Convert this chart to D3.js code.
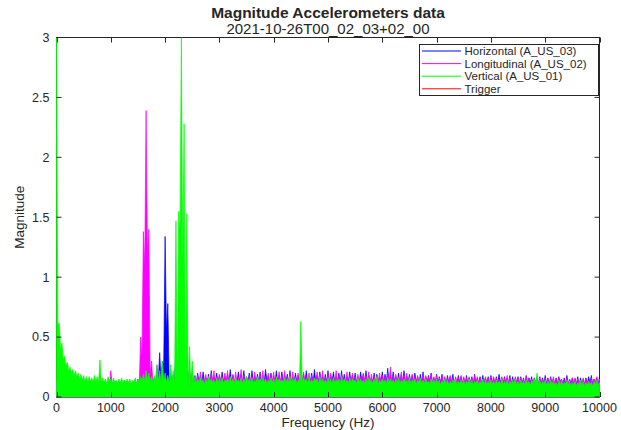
<!DOCTYPE html>
<html>
<head>
<meta charset="utf-8">
<script src="https://cdn.jsdelivr.net/npm/d3@7"></script>
<style>
  body { margin: 0; background: #fff; }
  svg { display: block; }
  text { font-family: "Liberation Sans", Arial, Helvetica, sans-serif; fill: #262626; }
</style>
</head>
<body>
<svg id="chart" width="621" height="430"></svg>
<script>
// Spectrum summarised per 50 Hz bin: the peak magnitude at each bin centre
// and the lowest magnitude reached between two neighbouring bins.
const binHz = 50;
const freqHz = d3.range(0, 10000 + binHz, binHz);
const troughHz = freqHz.slice(0, -1).map(f => f + binHz / 2);

const xTicks = [0, 1000, 2000, 3000, 4000, 5000, 6000, 7000, 8000, 9000, 10000];
const yTicks = [0, 0.5, 1, 1.5, 2, 2.5, 3];

const seriesNames = ["Horizontal (A_US_03)", "Longitudinal (A_US_02)", "Vertical (A_US_01)", "Trigger"];
const seriesColors = ["#0000ff", "#ff00ff", "#00ff00", "#ff0000"];

// Horizontal (A_US_03): peaks
const horizontal = [
  0.10, 0.35, 0.28, 0.22, 0.19, 0.17, 0.16, 0.15, 0.14, 0.14,
  0.13, 0.14, 0.12, 0.13, 0.12, 0.13, 0.14, 0.12, 0.13, 0.12,
  0.13, 0.12, 0.13, 0.12, 0.13, 0.14, 0.12, 0.13, 0.12, 0.14,
  0.13, 0.15, 0.14, 0.16, 0.15, 0.14, 0.15, 0.18, 0.37, 0.30,
  1.34, 0.78, 0.20, 0.18, 0.42, 0.30, 0.22, 0.18, 0.28, 0.17,
  0.21, 0.18,
  0.20, 0.17, 0.21, 0.16, 0.19, 0.22, 0.17, 0.20, 0.18,
  0.21, 0.17, 0.19, 0.23, 0.18, 0.16, 0.21, 0.19, 0.22, 0.17,
  0.20, 0.22, 0.17, 0.19, 0.21, 0.16, 0.23, 0.18, 0.20, 0.17,
  0.22, 0.18, 0.21, 0.17, 0.19, 0.22, 0.16, 0.20, 0.18, 0.21,
  0.19, 0.22, 0.17, 0.20, 0.23, 0.18, 0.21, 0.17, 0.19, 0.22,
  0.18, 0.21, 0.17, 0.20, 0.22, 0.19, 0.17, 0.21, 0.18, 0.20,
  0.17, 0.21, 0.19, 0.22, 0.18, 0.16, 0.20, 0.19, 0.17, 0.21,
  0.19, 0.24, 0.18, 0.21, 0.17, 0.20, 0.19, 0.22, 0.17, 0.19,
  0.18, 0.20, 0.17, 0.19, 0.21, 0.17, 0.18, 0.20, 0.16, 0.19,
  0.17, 0.19, 0.16, 0.18, 0.17, 0.19, 0.16, 0.18, 0.17, 0.16,
  0.18, 0.16, 0.17, 0.19, 0.16, 0.17, 0.18, 0.16, 0.17, 0.18,
  0.16, 0.17, 0.19, 0.16, 0.17, 0.16, 0.18, 0.17, 0.16, 0.17,
  0.17, 0.16, 0.18, 0.16, 0.17, 0.16, 0.15, 0.17, 0.16, 0.18,
  0.16, 0.17, 0.15, 0.16, 0.17, 0.15, 0.16, 0.18, 0.15, 0.16,
  0.15, 0.17, 0.16, 0.15, 0.16, 0.17, 0.18, 0.15, 0.16, 0.17
];
// Horizontal (A_US_03): troughs
const horizontalTrough = [
  0.30, 0.24, 0.20, 0.17, 0.15, 0.14, 0.13, 0.12, 0.12, 0.11,
  0.10, 0.11, 0.10, 0.09, 0.10, 0.11, 0.10, 0.09, 0.10, 0.11,
  0.10, 0.09, 0.10, 0.11, 0.10, 0.10, 0.09, 0.10, 0.11, 0.10,
  0.11, 0.10, 0.11, 0.12, 0.11, 0.11, 0.12, 0.14, 0.15, 0.28,
  0.55, 0.14, 0.12, 0.13, 0.15, 0.14, 0.12, 0.13, 0.12, 0.12,
  0.11, 0.11,
  0.12, 0.11, 0.13, 0.12, 0.11, 0.12, 0.13, 0.11,
  0.12, 0.13, 0.11, 0.12, 0.12, 0.11, 0.13, 0.12, 0.11, 0.12,
  0.13, 0.11, 0.12, 0.12, 0.13, 0.11, 0.12, 0.13, 0.12, 0.11,
  0.12, 0.12, 0.11, 0.13, 0.12, 0.11, 0.12, 0.12, 0.13, 0.11,
  0.12, 0.11, 0.12, 0.13, 0.11, 0.12, 0.13, 0.12, 0.11, 0.12,
  0.11, 0.13, 0.12, 0.11, 0.12, 0.12, 0.11, 0.13, 0.12, 0.12,
  0.12, 0.11, 0.13, 0.12, 0.11, 0.12, 0.12, 0.11, 0.12, 0.13,
  0.11, 0.12, 0.12, 0.11, 0.13, 0.12, 0.11, 0.12, 0.11, 0.12,
  0.12, 0.11, 0.12, 0.11, 0.12, 0.11, 0.12, 0.12, 0.11, 0.11,
  0.11, 0.12, 0.10, 0.11, 0.12, 0.11, 0.10, 0.11, 0.12, 0.11,
  0.10, 0.11, 0.12, 0.10, 0.11, 0.11, 0.10, 0.12, 0.11, 0.10,
  0.11, 0.10, 0.11, 0.12, 0.10, 0.11, 0.11, 0.10, 0.11, 0.12,
  0.10, 0.11, 0.10, 0.11, 0.12, 0.10, 0.11, 0.10, 0.11, 0.11,
  0.11, 0.10, 0.11, 0.10, 0.11, 0.12, 0.10, 0.11, 0.10, 0.11,
  0.10, 0.11, 0.10, 0.11, 0.10, 0.11, 0.12, 0.10, 0.11, 0.10
];

// Longitudinal (A_US_02): peaks
const longitudinal = [
  0.10, 0.30, 0.24, 0.20, 0.17, 0.15, 0.14, 0.13, 0.13, 0.12,
  0.12, 0.11, 0.12, 0.11, 0.12, 0.11, 0.12, 0.11, 0.12, 0.13,
  0.22, 0.12, 0.11, 0.12, 0.13, 0.12, 0.11, 0.13, 0.12, 0.13,
  0.15, 0.50, 1.38, 2.39, 1.40, 0.30, 0.16, 0.27, 0.19, 0.15,
  0.14, 0.16, 0.15, 0.17, 0.30, 0.28, 0.33, 0.26, 0.30, 0.22,
  0.20, 0.17,
  0.18, 0.21, 0.16, 0.19, 0.17, 0.20, 0.22, 0.17, 0.19,
  0.17, 0.20, 0.22, 0.17, 0.19, 0.21, 0.17, 0.23, 0.18, 0.16,
  0.18, 0.17, 0.21, 0.16, 0.19, 0.22, 0.17, 0.20, 0.18, 0.21,
  0.17, 0.21, 0.18, 0.22, 0.17, 0.19, 0.21, 0.17, 0.20, 0.18,
  0.21, 0.17, 0.20, 0.18, 0.16, 0.21, 0.19, 0.22, 0.17, 0.19,
  0.20, 0.17, 0.22, 0.18, 0.19, 0.16, 0.21, 0.18, 0.20, 0.17,
  0.19, 0.17, 0.20, 0.18, 0.21, 0.19, 0.17, 0.18, 0.20, 0.18,
  0.17, 0.20, 0.25, 0.18, 0.19, 0.17, 0.21, 0.18, 0.20, 0.17,
  0.19, 0.17, 0.18, 0.16, 0.19, 0.18, 0.17, 0.19, 0.17, 0.18,
  0.16, 0.18, 0.17, 0.16, 0.18, 0.16, 0.17, 0.16, 0.18, 0.17,
  0.16, 0.17, 0.16, 0.18, 0.17, 0.16, 0.15, 0.17, 0.16, 0.17,
  0.17, 0.16, 0.15, 0.17, 0.16, 0.18, 0.16, 0.15, 0.17, 0.16,
  0.16, 0.15, 0.17, 0.16, 0.15, 0.16, 0.17, 0.16, 0.15, 0.16,
  0.15, 0.16, 0.17, 0.15, 0.16, 0.15, 0.14, 0.16, 0.15, 0.16,
  0.16, 0.15, 0.14, 0.16, 0.15, 0.14, 0.16, 0.15, 0.17, 0.15
];
// Longitudinal (A_US_02): troughs
const longitudinalTrough = [
  0.26, 0.21, 0.18, 0.16, 0.14, 0.13, 0.12, 0.12, 0.11, 0.11,
  0.10, 0.09, 0.10, 0.10, 0.09, 0.10, 0.10, 0.09, 0.10, 0.11,
  0.11, 0.10, 0.09, 0.10, 0.11, 0.10, 0.09, 0.10, 0.11, 0.10,
  0.12, 0.35, 1.10, 1.20, 0.20, 0.12, 0.12, 0.13, 0.12, 0.11,
  0.11, 0.12, 0.11, 0.14, 0.20, 0.22, 0.24, 0.20, 0.18, 0.14,
  0.12, 0.12,
  0.11, 0.12, 0.12, 0.11, 0.13, 0.12, 0.11, 0.12,
  0.11, 0.12, 0.13, 0.11, 0.12, 0.12, 0.11, 0.13, 0.12, 0.11,
  0.12, 0.11, 0.12, 0.13, 0.11, 0.12, 0.12, 0.11, 0.12, 0.13,
  0.11, 0.12, 0.12, 0.11, 0.13, 0.12, 0.11, 0.12, 0.12, 0.11,
  0.13, 0.12, 0.11, 0.12, 0.12, 0.13, 0.11, 0.12, 0.11, 0.12,
  0.12, 0.11, 0.13, 0.12, 0.11, 0.12, 0.13, 0.11, 0.12, 0.12,
  0.11, 0.12, 0.12, 0.13, 0.11, 0.12, 0.11, 0.12, 0.13, 0.11,
  0.12, 0.11, 0.13, 0.12, 0.12, 0.11, 0.12, 0.11, 0.12, 0.12,
  0.11, 0.12, 0.11, 0.12, 0.12, 0.11, 0.11, 0.12, 0.11, 0.12,
  0.10, 0.11, 0.12, 0.10, 0.11, 0.11, 0.10, 0.12, 0.11, 0.10,
  0.11, 0.12, 0.10, 0.11, 0.10, 0.11, 0.12, 0.10, 0.11, 0.11,
  0.10, 0.11, 0.11, 0.10, 0.12, 0.11, 0.10, 0.11, 0.10, 0.11,
  0.11, 0.10, 0.11, 0.12, 0.10, 0.11, 0.11, 0.10, 0.11, 0.10,
  0.10, 0.11, 0.10, 0.11, 0.10, 0.12, 0.11, 0.10, 0.11, 0.10,
  0.11, 0.10, 0.11, 0.10, 0.11, 0.10, 0.11, 0.10, 0.12, 0.10
];

// Vertical (A_US_01): peaks
const vertical = [
  3.00, 0.62, 0.45, 0.34, 0.29, 0.25, 0.23, 0.22, 0.20, 0.19,
  0.18, 0.17, 0.17, 0.16, 0.18, 0.17, 0.31, 0.16, 0.15, 0.17,
  0.15, 0.16, 0.14, 0.15, 0.16, 0.14, 0.15, 0.15, 0.14, 0.16,
  0.15, 0.17, 0.19, 0.22, 0.20, 0.17, 0.18, 0.26, 0.22, 0.30,
  0.20, 0.18, 0.27, 0.22, 1.47, 1.55, 3.00, 2.28, 1.53, 0.42,
  0.30, 0.17,
  0.15, 0.16, 0.14, 0.15, 0.17, 0.15, 0.14, 0.16, 0.15,
  0.16, 0.14, 0.15, 0.17, 0.15, 0.16, 0.14, 0.16, 0.15, 0.17,
  0.15, 0.16, 0.14, 0.17, 0.15, 0.16, 0.15, 0.14, 0.16, 0.15,
  0.17, 0.15, 0.14, 0.16, 0.15, 0.17, 0.15, 0.16, 0.14, 0.63,
  0.16, 0.15, 0.17, 0.14, 0.16, 0.15, 0.17, 0.15, 0.14, 0.16,
  0.15, 0.16, 0.14, 0.15, 0.17, 0.15, 0.14, 0.16, 0.15, 0.14,
  0.16, 0.15, 0.14, 0.15, 0.16, 0.14, 0.15, 0.17, 0.14, 0.15,
  0.14, 0.16, 0.15, 0.14, 0.15, 0.16, 0.14, 0.15, 0.14, 0.16,
  0.14, 0.15, 0.14, 0.16, 0.14, 0.15, 0.13, 0.15, 0.14, 0.15,
  0.14, 0.13, 0.15, 0.14, 0.13, 0.14, 0.15, 0.13, 0.14, 0.14,
  0.13, 0.15, 0.14, 0.13, 0.14, 0.13, 0.15, 0.14, 0.13, 0.14,
  0.13, 0.14, 0.13, 0.15, 0.13, 0.14, 0.13, 0.14, 0.15, 0.13,
  0.14, 0.13, 0.14, 0.13, 0.14, 0.15, 0.20, 0.14, 0.13, 0.14,
  0.13, 0.14, 0.13, 0.12, 0.14, 0.13, 0.12, 0.14, 0.13, 0.12,
  0.13, 0.12, 0.14, 0.13, 0.12, 0.13, 0.12, 0.13, 0.14, 0.12
];
// Vertical (A_US_01): troughs
const verticalTrough = [
  0.60, 0.40, 0.31, 0.26, 0.22, 0.20, 0.18, 0.17, 0.15, 0.14,
  0.13, 0.12, 0.13, 0.12, 0.13, 0.12, 0.12, 0.12, 0.11, 0.12,
  0.11, 0.12, 0.11, 0.12, 0.11, 0.12, 0.12, 0.11, 0.12, 0.11,
  0.12, 0.13, 0.13, 0.14, 0.13, 0.12, 0.12, 0.13, 0.12, 0.13,
  0.12, 0.12, 0.13, 0.10, 0.05, 1.40, 1.10, 0.08, 0.06, 0.08,
  0.10, 0.11,
  0.12, 0.13, 0.11, 0.12, 0.13, 0.12, 0.11, 0.12,
  0.12, 0.11, 0.13, 0.12, 0.12, 0.11, 0.13, 0.12, 0.11, 0.12,
  0.13, 0.12, 0.11, 0.12, 0.13, 0.12, 0.12, 0.11, 0.13, 0.12,
  0.11, 0.12, 0.13, 0.12, 0.11, 0.12, 0.12, 0.13, 0.11, 0.12,
  0.12, 0.13, 0.11, 0.12, 0.12, 0.13, 0.11, 0.12, 0.12, 0.11,
  0.12, 0.11, 0.12, 0.13, 0.11, 0.12, 0.12, 0.11, 0.12, 0.13,
  0.11, 0.12, 0.12, 0.11, 0.12, 0.13, 0.11, 0.12, 0.11, 0.12,
  0.12, 0.11, 0.12, 0.12, 0.11, 0.12, 0.11, 0.12, 0.12, 0.11,
  0.11, 0.12, 0.11, 0.12, 0.11, 0.11, 0.12, 0.11, 0.12, 0.11,
  0.11, 0.10, 0.12, 0.11, 0.10, 0.11, 0.12, 0.10, 0.11, 0.11,
  0.10, 0.11, 0.11, 0.10, 0.12, 0.10, 0.11, 0.11, 0.10, 0.11,
  0.11, 0.10, 0.11, 0.11, 0.10, 0.11, 0.10, 0.11, 0.11, 0.10,
  0.10, 0.11, 0.10, 0.11, 0.10, 0.11, 0.11, 0.10, 0.10, 0.11,
  0.10, 0.10, 0.11, 0.10, 0.09, 0.10, 0.10, 0.11, 0.10, 0.09,
  0.10, 0.09, 0.10, 0.10, 0.09, 0.10, 0.10, 0.09, 0.10, 0.10
];

// Trigger channel stays at zero over the whole band
const triggerHz = [0, 10000];
const trigger = [0, 0];

const svg = d3.select("#chart");
const W = 621, H = 430;
const plot = { left: 56.5, right: 599.5, top: 37.5, bottom: 397 };

const x = d3.scaleLinear().domain([0, 10000]).range([plot.left, plot.right]);
const y = d3.scaleLinear().domain([0, 3]).range([plot.bottom, plot.top]);

svg.append("rect").attr("width", W).attr("height", H).attr("fill", "#fff");

// Axes frame
svg.append("rect")
  .attr("x", plot.left).attr("y", plot.top)
  .attr("width", plot.right - plot.left).attr("height", plot.bottom - plot.top)
  .attr("fill", "#fff").attr("stroke", "#262626").attr("stroke-width", 1);

svg.append("defs").append("clipPath").attr("id", "plotClip")
  .append("rect")
  .attr("x", plot.left - 1).attr("y", plot.top)
  .attr("width", plot.right - plot.left + 2).attr("height", plot.bottom - plot.top + 1);

const dataG = svg.append("g").attr("clip-path", "url(#plotClip)");

// Trigger line sits underneath the accelerometer channels
dataG.append("path")
  .datum(trigger)
  .attr("fill", "none")
  .attr("stroke", seriesColors[3])
  .attr("stroke-width", 0.8)
  .attr("d", d3.line().x((d, i) => x(triggerHz[i])).y(d => y(d)));

// Interleave bin peaks and inter-bin troughs into one trace
function trace(peaks, troughs) {
  const pts = [];
  peaks.forEach((v, i) => {
    pts.push([freqHz[i], v]);
    if (i < troughs.length) pts.push([troughHz[i], troughs[i]]);
  });
  return pts;
}

const channels = [
  { peaks: horizontal, troughs: horizontalTrough, color: seriesColors[0] },
  { peaks: longitudinal, troughs: longitudinalTrough, color: seriesColors[1] },
  { peaks: vertical, troughs: verticalTrough, color: seriesColors[2] }
];

const area = d3.area()
  .x(d => x(d[0]))
  .y0(y(0))
  .y1(d => y(d[1]));

channels.forEach(ch => {
  dataG.append("path")
    .datum(trace(ch.peaks, ch.troughs))
    .attr("fill", ch.color)
    .attr("stroke", ch.color)
    .attr("stroke-width", 0.7)
    .attr("stroke-linejoin", "round")
    .attr("d", area);
});

// Ticks (inward, mirrored on top and right)
const tickLen = 5;
const tickG = svg.append("g").attr("stroke", "#262626").attr("stroke-width", 1);
xTicks.forEach(t => {
  const px = Math.round(x(t)) + 0.5;
  tickG.append("line").attr("x1", px).attr("x2", px).attr("y1", plot.bottom).attr("y2", plot.bottom - tickLen);
  tickG.append("line").attr("x1", px).attr("x2", px).attr("y1", plot.top).attr("y2", plot.top + tickLen);
});
yTicks.forEach(t => {
  const py = y(t);
  tickG.append("line").attr("x1", plot.left).attr("x2", plot.left + tickLen).attr("y1", py).attr("y2", py);
  tickG.append("line").attr("x1", plot.right).attr("x2", plot.right - tickLen).attr("y1", py).attr("y2", py);
});

// Tick labels
svg.append("g").selectAll("text").data(xTicks).join("text")
  .attr("x", d => x(d)).attr("y", 411.5)
  .attr("text-anchor", "middle").attr("font-size", 12.5)
  .text(d => String(d));

svg.append("g").selectAll("text").data(yTicks).join("text")
  .attr("x", plot.left - 7).attr("y", d => y(d)).attr("dy", "0.35em")
  .attr("text-anchor", "end").attr("font-size", 12.5)
  .text(d => String(d));

// Titles and axis labels
const cx = (plot.left + plot.right) / 2;
svg.append("text").attr("x", cx).attr("y", 17.5)
  .attr("text-anchor", "middle").attr("font-size", 15.5).attr("font-weight", "bold")
  .text("Magnitude Accelerometers data");
svg.append("text").attr("x", cx).attr("y", 34)
  .attr("text-anchor", "middle").attr("font-size", 15)
  .text("2021-10-26T00_02_03+02_00");
svg.append("text").attr("x", cx).attr("y", 427)
  .attr("text-anchor", "middle").attr("font-size", 13.5)
  .text("Frequency (Hz)");
svg.append("text")
  .attr("transform", `translate(24, ${(plot.top + plot.bottom) / 2}) rotate(-90)`)
  .attr("text-anchor", "middle").attr("font-size", 13.5)
  .text("Magnitude");

// Legend
const legend = svg.append("g");
legend.append("rect")
  .attr("x", 419.5).attr("y", 44.5).attr("width", 179).attr("height", 51)
  .attr("fill", "#fff").attr("stroke", "#262626").attr("stroke-width", 1);
seriesNames.forEach((name, i) => {
  const ly = 51 + i * 12.6;
  legend.append("line")
    .attr("x1", 422).attr("x2", 461).attr("y1", ly).attr("y2", ly)
    .attr("stroke", seriesColors[i]).attr("stroke-width", 1);
  legend.append("text")
    .attr("x", 464.5).attr("y", ly).attr("dy", "0.35em")
    .attr("font-size", 11.5)
    .text(name);
});
</script>
</body>
</html>
